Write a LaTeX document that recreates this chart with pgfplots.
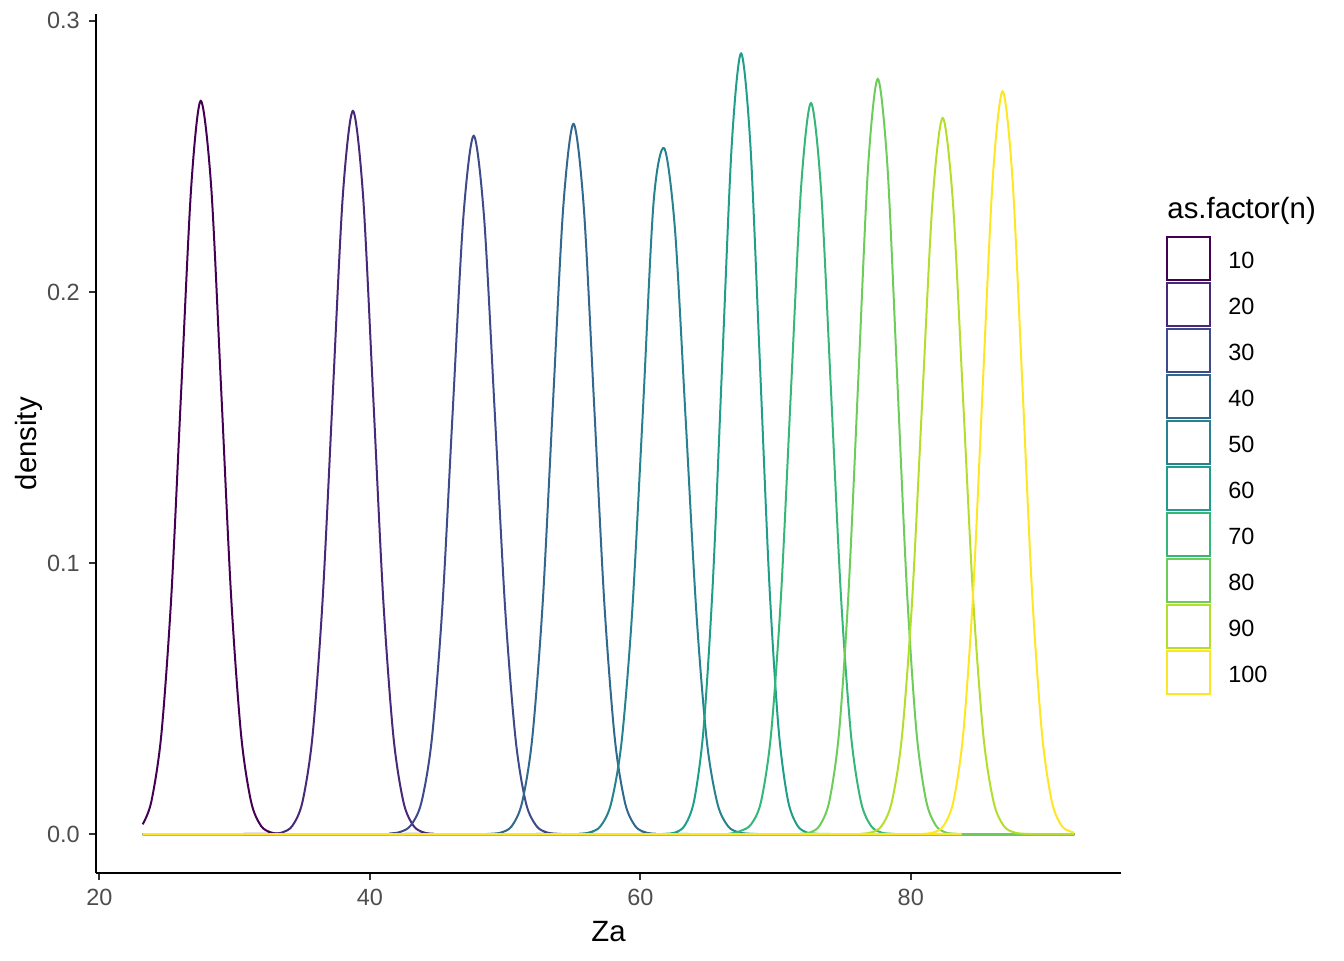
\documentclass[border=0pt]{standalone}
\usepackage{fontspec}
\setmainfont{Liberation Sans}
\usepackage{pgfplots}
\pgfplotsset{compat=1.18}
\definecolor{v1}{HTML}{440154}
\definecolor{v2}{HTML}{482878}
\definecolor{v3}{HTML}{3E4A89}
\definecolor{v4}{HTML}{31688E}
\definecolor{v5}{HTML}{26828E}
\definecolor{v6}{HTML}{1F9E89}
\definecolor{v7}{HTML}{35B779}
\definecolor{v8}{HTML}{6DCD59}
\definecolor{v9}{HTML}{B4DE2C}
\definecolor{v10}{HTML}{FDE725}
\definecolor{g20}{HTML}{333333}
\definecolor{g30}{HTML}{4D4D4D}
\begin{document}
\begin{tikzpicture}
\useasboundingbox (0,0) rectangle (504pt,360pt);
\begin{axis}[
  at={(36pt,32.6pt)}, anchor=south west,
  scale only axis, width=384.4pt, height=322pt,
  xmin=19.75, xmax=95.55, ymin=-0.0144, ymax=0.3024,
  axis x line=bottom, axis y line=left,
  axis line style={-, black, line width=0.75pt},
  tick align=outside, major tick length=2.6pt,
  every tick/.style={color=g20, line width=0.75pt},
  xtick={20,40,60,80}, ytick={0,0.1,0.2,0.3},
  yticklabels={0.0,0.1,0.2,0.3},
  /pgf/number format/assume math mode=true,
  ticklabel style={font=\fontsize{8.8}{10}\selectfont, text=g30},
  xticklabel style={anchor=north, inner sep=0pt, yshift=-3.4pt},
  yticklabel style={anchor=east, inner sep=0pt, xshift=-3.3pt},
  xlabel={Za}, ylabel={density},
  label style={font=\fontsize{11}{13}\selectfont, text=black},
  xlabel style={at={(axis description cs:0.5,-0.0793)}, anchor=base, inner sep=0pt},
  ylabel style={at={(axis description cs:-0.0653,0.5)}, anchor=center, inner sep=0pt},
  legend style={at={(axis description cs:1.0440,0.7416)}, anchor=north west,
    draw=none, fill=none, inner sep=0pt, outer sep=0pt,
    row sep=0.4pt, column sep=6.45pt,
    nodes={inner sep=0pt, text=black, yshift=-1.4pt},
    font=\fontsize{8.8}{10}\selectfont},
  legend cell align=left,
  legend image code/.code={\draw[#1] (0pt,-8.05pt) rectangle (16.1pt,8.05pt);},
  every axis plot/.append style={line width=0.75pt, smooth, no markers},
]
\addplot[v1] coordinates {(23.2,0.0036) (23.84,0.0119) (24.58,0.0366) (25.32,0.0878) (26.055,0.1641) (26.79,0.2387) (27.50,0.2705) (28.27,0.2387) (29.005,0.1641) (29.74,0.0878) (30.48,0.0366) (31.22,0.0119) (31.955,0.0030) (32.69,0.0006) (33.43,0.0001) (34.5,0) (92.1,0)};
\addlegendentry{10}
\addplot[v2] coordinates {(23.2,0) (31.8,0) (32.77,0.0001) (33.52,0.0006) (34.265,0.0030) (35.01,0.0117) (35.76,0.0361) (36.51,0.0866) (37.255,0.1618) (38.0,0.2354) (38.75,0.2668) (39.50,0.2354) (40.245,0.1618) (40.99,0.0866) (41.74,0.0361) (42.49,0.0117) (43.235,0.0030) (43.98,0.0006) (44.73,0.0001) (45.7,0) (92.1,0)};
\addlegendentry{20}
\addplot[v3] coordinates {(23.2,0) (40.5,0) (41.48,0.0002) (42.26,0.0008) (43.03,0.0032) (43.81,0.0116) (44.58,0.0349) (45.36,0.0836) (46.13,0.1562) (46.91,0.2273) (47.68,0.2576) (48.45,0.2273) (49.23,0.1562) (50.00,0.0836) (50.78,0.0349) (51.55,0.0113) (52.33,0.0029) (53.10,0.0006) (53.88,0.0001) (54.9,0) (92.1,0)};
\addlegendentry{30}
\addplot[v4] coordinates {(23.2,0) (48.0,0) (48.97,0.0001) (49.73,0.0006) (50.49,0.0029) (51.25,0.0115) (52.01,0.0354) (52.78,0.0851) (53.54,0.1589) (54.30,0.2312) (55.06,0.2620) (55.82,0.2312) (56.58,0.1589) (57.34,0.0851) (58.11,0.0354) (58.87,0.0115) (59.63,0.0029) (60.39,0.0006) (61.15,0.0001) (62.1,0) (92.1,0)};
\addlegendentry{40}
\addplot[v5] coordinates {(23.2,0) (54.5,0) (55.46,0.0001) (56.25,0.0006) (57.04,0.0028) (57.83,0.0111) (58.62,0.0342) (59.40,0.0821) (60.19,0.1560) (60.98,0.2330) (61.77,0.2530) (62.56,0.2233) (63.35,0.1534) (64.14,0.0821) (64.92,0.0342) (65.71,0.0111) (66.50,0.0028) (67.29,0.0006) (68.08,0.0001) (69.0,0) (92.1,0)};
\addlegendentry{50}
\addplot[v6] coordinates {(23.2,0) (61.0,0) (61.91,0.0001) (62.60,0.0006) (63.295,0.0032) (63.99,0.0126) (64.68,0.0390) (65.37,0.0935) (66.065,0.1747) (66.76,0.2542) (67.45,0.2880) (68.14,0.2542) (68.835,0.1747) (69.53,0.0935) (70.22,0.0390) (70.91,0.0126) (71.605,0.0032) (72.30,0.0006) (72.99,0.0001) (73.9,0) (92.1,0)};
\addlegendentry{60}
\addplot[v7] coordinates {(23.2,0) (65.8,0) (66.70,0.0002) (67.44,0.0012) (68.18,0.0035) (68.92,0.0118) (69.66,0.0365) (70.40,0.0876) (71.14,0.1636) (71.88,0.2380) (72.62,0.2697) (73.36,0.2380) (74.10,0.1636) (74.84,0.0876) (75.58,0.0365) (76.32,0.0118) (77.06,0.0030) (77.80,0.0006) (78.54,0.0001) (79.5,0) (92.1,0)};
\addlegendentry{70}
\addplot[v8] coordinates {(23.2,0) (70.9,0) (71.83,0.0001) (72.55,0.0006) (73.26,0.0031) (73.98,0.0122) (74.70,0.0377) (75.41,0.0905) (76.13,0.1690) (76.84,0.2459) (77.56,0.2786) (78.28,0.2459) (78.99,0.1690) (79.71,0.0905) (80.42,0.0377) (81.14,0.0122) (81.86,0.0031) (82.57,0.0006) (83.29,0.0001) (84.2,0) (92.1,0)};
\addlegendentry{80}
\addplot[v9] coordinates {(23.2,0) (75.4,0) (76.32,0.0001) (77.07,0.0006) (77.83,0.0029) (78.585,0.0116) (79.34,0.0357) (80.095,0.0858) (80.85,0.1602) (81.605,0.2332) (82.36,0.2642) (83.115,0.2332) (83.87,0.1602) (84.625,0.0858) (85.38,0.0357) (86.135,0.0116) (86.89,0.0029) (87.645,0.0006) (88.40,0.0001) (89.3,0) (92.1,0)};
\addlegendentry{90}
\addplot[v10] coordinates {(23.2,0) (80.0,0) (80.97,0.0001) (81.69,0.0006) (82.42,0.0030) (83.15,0.0120) (83.88,0.0371) (84.61,0.0890) (85.33,0.1662) (86.06,0.2418) (86.79,0.2740) (87.52,0.2418) (88.25,0.1662) (88.97,0.0890) (89.70,0.0371) (90.43,0.0120) (91.16,0.0030) (91.89,0.0008) (92.1,0.0005)};
\addlegendentry{100}
\end{axis}
\node[anchor=base west, inner sep=0pt, font=\fontsize{11}{13}\selectfont] at (437.6pt,278.1pt) {as.factor(n)};
\end{tikzpicture}
\end{document}
